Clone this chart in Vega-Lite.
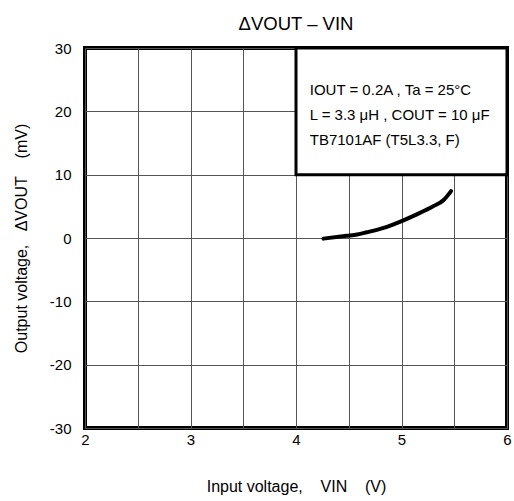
{
  "$schema": "https://vega.github.io/schema/vega-lite/v6.json",
  "autosize": {"type": "none"},
  "width": 422,
  "height": 380,
  "padding": {"left": 85, "top": 48, "right": 7, "bottom": 73},
  "config": {
    "font": "Liberation Sans",
    "view": {"stroke": "black", "strokeWidth": 4},
    "axis": {"labelFont": "Liberation Sans", "titleFont": "Liberation Sans", "labelColor": "black", "titleColor": "black", "labelFontSize": 15, "titleFontSize": 16, "titleFontWeight": "normal", "gridColor": "#555555", "gridWidth": 1, "gridOpacity": 1, "domain": false, "ticks": false}
  },
  "title": {"text": "ΔVOUT – VIN", "fontSize": 18.5, "fontWeight": "normal", "font": "Liberation Sans", "color": "black", "anchor": "middle", "offset": 8},
  "datasets": {
    "curve": [
      {"vin": 4.26, "dv": -0.1},
      {"vin": 4.48, "dv": 0.35},
      {"vin": 4.58, "dv": 0.55},
      {"vin": 4.67, "dv": 0.9},
      {"vin": 4.83, "dv": 1.6},
      {"vin": 4.99, "dv": 2.6},
      {"vin": 5.14, "dv": 3.7},
      {"vin": 5.30, "dv": 5.0},
      {"vin": 5.40, "dv": 6.0},
      {"vin": 5.47, "dv": 7.4}
    ],
    "box": [{"x1": 4, "x2": 6, "y1": 10, "y2": 30}],
    "notes": [
      {"vin": 4.13, "dv": 23.4, "label": "IOUT = 0.2A , Ta = 25°C"},
      {"vin": 4.13, "dv": 19.4, "label": "L = 3.3 μH , COUT = 10 μF"},
      {"vin": 4.13, "dv": 15.5, "label": "TB7101AF (T5L3.3, F)"}
    ]
  },
  "layer": [
    {
      "data": {"name": "curve"},
      "mark": {"type": "line", "color": "black", "strokeWidth": 4, "strokeCap": "round", "interpolate": "monotone"},
      "encoding": {
        "x": {"field": "vin", "type": "quantitative", "scale": {"domain": [2, 6], "nice": false}, "axis": {"values": [2, 2.5, 3, 3.5, 4, 4.5, 5, 5.5, 6], "labelExpr": "datum.value % 1 == 0 ? datum.value + '' : ''", "labelPadding": 4, "title": "Input voltage,\u00a0\u00a0\u00a0\u00a0VIN\u00a0\u00a0\u00a0\u00a0(V)", "titlePadding": 31, "labelFlush": false, "labelOverlap": false}},
        "y": {"field": "dv", "type": "quantitative", "scale": {"domain": [-30, 30], "nice": false}, "axis": {"values": [-30, -20, -10, 0, 10, 20, 30], "labelExpr": "datum.value + ''", "labelPadding": 14, "title": "Output voltage,\u00a0\u00a0\u00a0ΔVOUT\u00a0\u00a0\u00a0\u00a0(mV)", "titlePadding": 20, "labelFlush": false, "labelOverlap": false}}
      }
    },
    {
      "data": {"name": "box"},
      "mark": {"type": "rect", "fill": "white", "stroke": "black", "strokeWidth": 3},
      "encoding": {
        "x": {"field": "x1", "type": "quantitative"},
        "x2": {"field": "x2"},
        "y": {"field": "y1", "type": "quantitative"},
        "y2": {"field": "y2"}
      }
    },
    {
      "data": {"name": "notes"},
      "mark": {"type": "text", "align": "left", "baseline": "middle", "fontSize": 15, "font": "Liberation Sans", "color": "black"},
      "encoding": {
        "x": {"field": "vin", "type": "quantitative"},
        "y": {"field": "dv", "type": "quantitative"},
        "text": {"field": "label"}
      }
    }
  ]
}
